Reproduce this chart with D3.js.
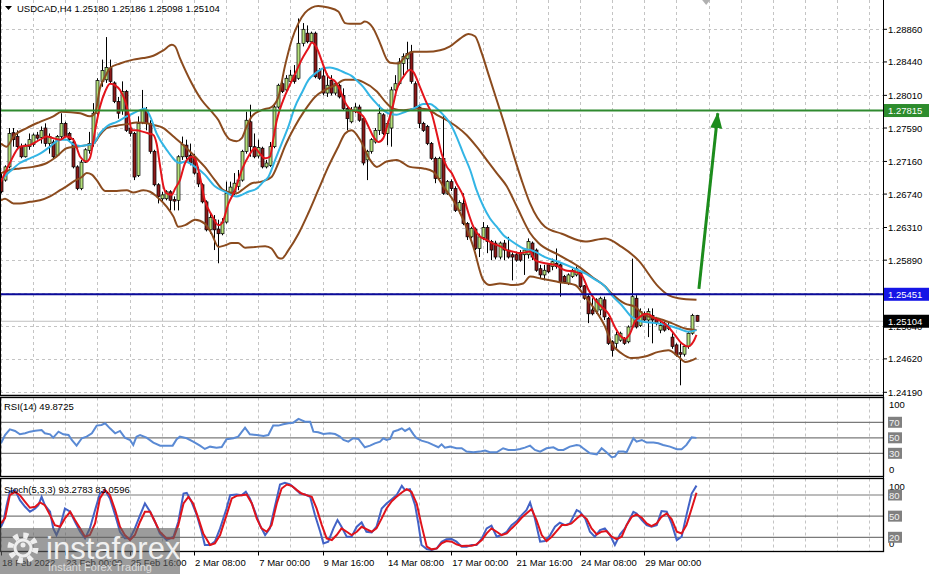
<!DOCTYPE html>
<html>
<head>
<meta charset="utf-8">
<script src="https://cdn.jsdelivr.net/npm/d3@7"></script>
<style>
  html, body { margin: 0; padding: 0; background: #fff; }
  svg { display: block; font-family: "Liberation Sans", Arial, sans-serif; }
</style>
</head>
<body>
<svg id="chart" width="929" height="574"></svg>
<script>
// USDCAD H4 candles, 18 Feb 08:00 .. 31 Mar 04:00
const opens = [1.2692,1.2692,1.2709,1.2753,1.2748,1.2735,1.2722,1.2735,1.2738,1.2750,1.2747,1.2759,1.2739,1.2741,1.2724,1.2748,1.2765,1.2752,1.2741,1.2709,
  1.2681,1.2715,1.2730,1.2739,1.2778,1.2819,1.2821,1.2836,1.2817,1.2793,1.2782,1.2806,1.2759,1.2752,1.2698,1.2766,1.2782,1.2765,1.2729,1.2686,
  1.2668,1.2668,1.2677,1.2667,1.2666,1.2722,1.2737,1.2724,1.2721,1.2701,1.2686,1.2664,1.2628,1.2641,1.2629,1.2623,1.2638,1.2675,1.2677,1.2684,
  1.2692,1.2729,1.2767,1.2735,1.2723,1.2733,1.2709,1.2711,1.2735,1.2786,1.2816,1.2808,1.2819,1.2827,1.2823,1.2868,1.2881,1.2870,1.2881,1.2833,
  1.2826,1.2804,1.2820,1.2804,1.2814,1.2801,1.2784,1.2767,1.2780,1.2786,1.2771,1.2718,1.2729,1.2741,1.2756,1.2776,1.2752,1.2759,1.2808,1.2816,
  1.2842,1.2848,1.2857,1.2816,1.2786,1.2765,1.2761,1.2739,1.2720,1.2694,1.2720,1.2675,1.2690,1.2681,1.2653,1.2662,1.2636,1.2619,1.2629,1.2604,
  1.2618,1.2631,1.2613,1.2611,1.2593,1.2611,1.2602,1.2596,1.2596,1.2599,1.2596,1.2596,1.2611,1.2602,1.2578,1.2570,1.2583,1.2581,1.2585,1.2583,
  1.2568,1.2559,1.2568,1.2570,1.2574,1.2556,1.2542,1.2525,1.2523,1.2525,1.2538,1.2514,1.2484,1.2482,1.2486,1.2488,1.2484,1.2503,1.2540,1.2505,
  1.2520,1.2512,1.2518,1.2514,1.2499,1.2508,1.2501,1.2490,1.2480,1.2470,1.2468,1.2478,1.2495,1.25180]
const highs = [1.2701,1.2711,1.2759,1.2759,1.2756,1.2739,1.2739,1.2752,1.2752,1.2754,1.2761,1.2765,1.2752,1.2744,1.2750,1.2778,1.2767,1.2754,1.2746,1.2711,
  1.2718,1.2733,1.2754,1.2791,1.2823,1.2847,1.2876,1.2847,1.2819,1.2799,1.2819,1.2808,1.2761,1.2754,1.2774,1.2808,1.2786,1.2769,1.2731,1.2688,
  1.2677,1.2679,1.2679,1.2671,1.2724,1.2748,1.2744,1.2739,1.2726,1.2709,1.2688,1.2666,1.2649,1.2647,1.2641,1.2643,1.2690,1.2690,1.2701,1.2705,
  1.2731,1.2780,1.2789,1.2752,1.2744,1.2735,1.2718,1.2741,1.2789,1.2816,1.2821,1.2827,1.2834,1.2840,1.2900,1.2894,1.2891,1.2883,1.2883,1.2836,
  1.2840,1.2829,1.2827,1.2819,1.2816,1.2810,1.2786,1.2786,1.2791,1.2789,1.2774,1.2731,1.2746,1.2759,1.2789,1.2778,1.2767,1.2812,1.2827,1.2849,
  1.2855,1.2870,1.2866,1.2819,1.2789,1.2767,1.2763,1.2741,1.2722,1.2722,1.2776,1.2692,1.2693,1.2684,1.2666,1.2675,1.2638,1.2632,1.2631,1.2623,
  1.2638,1.2634,1.2615,1.2614,1.2613,1.2615,1.2619,1.2599,1.2600,1.2602,1.2603,1.2617,1.2613,1.2604,1.2583,1.2583,1.2585,1.2591,1.2604,1.2585,
  1.2570,1.2572,1.2578,1.2581,1.2576,1.2557,1.2544,1.2540,1.2540,1.2542,1.2542,1.2516,1.2486,1.2497,1.2497,1.2490,1.2505,1.2591,1.2544,1.2527,
  1.2523,1.2527,1.2527,1.2516,1.2512,1.2510,1.2508,1.2495,1.2482,1.2482,1.2480,1.2497,1.2520,1.25186]
const lows = [1.2675,1.2690,1.2707,1.2735,1.2733,1.2720,1.2721,1.2731,1.2735,1.2744,1.2739,1.2735,1.2726,1.2720,1.2723,1.2744,1.2747,1.2741,1.2707,1.2679,
  1.2679,1.2714,1.2726,1.2735,1.2774,1.2812,1.2817,1.2816,1.2791,1.2771,1.2776,1.2754,1.2748,1.2692,1.2696,1.2764,1.2756,1.2726,1.2684,1.2662,
  1.2664,1.2666,1.2653,1.2653,1.2653,1.2718,1.2719,1.2711,1.2699,1.2683,1.2662,1.2626,1.2623,1.2602,1.2585,1.2621,1.2636,1.2673,1.2673,1.2679,
  1.2690,1.2726,1.2722,1.2720,1.2720,1.2707,1.2707,1.2709,1.2733,1.2784,1.2804,1.2806,1.2814,1.2816,1.2821,1.2864,1.2868,1.2868,1.2823,1.2821,
  1.2801,1.2799,1.2801,1.2801,1.2797,1.2782,1.2756,1.2765,1.2778,1.2767,1.2711,1.2692,1.2726,1.2739,1.2750,1.2750,1.2737,1.2735,1.2806,1.2814,
  1.2827,1.2834,1.2816,1.2784,1.2759,1.2754,1.2737,1.2718,1.2688,1.2692,1.2673,1.2673,1.2678,1.2651,1.2649,1.2634,1.2615,1.2617,1.2602,1.2593,
  1.2615,1.2598,1.2589,1.2590,1.2590,1.2589,1.2591,1.2563,1.2587,1.2587,1.2570,1.2591,1.2589,1.2574,1.2566,1.2563,1.2572,1.2576,1.2578,1.2542,
  1.2559,1.2557,1.2566,1.2568,1.2553,1.2538,1.2508,1.2518,1.2520,1.2518,1.2512,1.2480,1.2465,1.2475,1.2484,1.2480,1.2482,1.2501,1.2501,1.2503,
  1.2510,1.2490,1.2482,1.2505,1.2495,1.2497,1.2499,1.2475,1.2465,1.2428,1.2465,1.2475,1.2493,1.25098]
const closes = [1.2677,1.2709,1.2752,1.2744,1.2735,1.2722,1.2737,1.2744,1.2750,1.2746,1.2756,1.2739,1.2748,1.2722,1.2748,1.2765,1.2748,1.2744,1.2709,1.2681,
  1.2715,1.2731,1.2739,1.2778,1.2820,1.2833,1.2837,1.2819,1.2793,1.2778,1.2806,1.2756,1.2752,1.2696,1.2765,1.2783,1.2765,1.2729,1.2686,1.2671,
  1.2673,1.2677,1.2666,1.2665,1.2722,1.2738,1.2722,1.2714,1.2701,1.2687,1.2664,1.2628,1.2644,1.2628,1.2623,1.2638,1.2675,1.2683,1.2688,1.2692,
  1.2729,1.2769,1.2735,1.2722,1.2734,1.2709,1.2714,1.2735,1.2786,1.2814,1.2806,1.2823,1.2827,1.2819,1.2868,1.2886,1.2870,1.2881,1.2825,1.2823,
  1.2804,1.2814,1.2804,1.2816,1.2799,1.2784,1.2771,1.2782,1.2786,1.2769,1.2714,1.2729,1.2744,1.2756,1.2778,1.2752,1.2765,1.2808,1.2816,1.2844,
  1.2851,1.2855,1.2819,1.2786,1.2765,1.2756,1.2739,1.2720,1.2694,1.2720,1.2675,1.2690,1.2681,1.2653,1.2663,1.2636,1.2619,1.2630,1.2604,1.2619,
  1.2631,1.2613,1.2602,1.2593,1.2611,1.2602,1.2593,1.2593,1.2589,1.2589,1.2602,1.2613,1.2593,1.2576,1.2570,1.2576,1.2574,1.2587,1.2581,1.2561,
  1.2561,1.2570,1.2576,1.2578,1.2555,1.2540,1.2520,1.2520,1.2538,1.2540,1.2516,1.2482,1.2473,1.2493,1.2495,1.2482,1.2503,1.2542,1.2503,1.2523,
  1.2512,1.2523,1.2512,1.2508,1.2505,1.2499,1.2505,1.2478,1.2467,1.2468,1.2478,1.2495,1.2518,1.25104]

// indicator lines as [bar, value] samples
const upperBand = [[0,1.2739],[1.4,1.2735],[3.1,1.2748],[6.4,1.2759],[9.7,1.2767],[13,1.2774],[15.1,1.2780],[19.7,1.2778],[22.1,1.2774],[23.4,1.2778],
  [24.6,1.2810],[25.9,1.2825],[27.1,1.2836],[29.6,1.2842],[32.9,1.2847],[35.4,1.2849],[37.9,1.2852],[40.4,1.2859],[42.5,1.2866],[43.3,1.2864],[44.5,1.2849],
  [47.4,1.2817],[49.9,1.2795],[52.4,1.2780],[54.1,1.2769],[55.7,1.2752],[57,1.2744],[58.6,1.2742],[59.9,1.2746],[61.1,1.2761],[62.4,1.2774],[64.8,1.2782],
  [67.3,1.2786],[69,1.2799],[70.6,1.2838],[72.3,1.2872],[74,1.2894],[75.6,1.2907],[77.3,1.2914],[78.9,1.2916],[81.4,1.2914],[83.9,1.2909],[85.6,1.2894],
  [86.8,1.2893],[89.3,1.2893],[90.5,1.2896],[92.5,1.2888],[94.3,1.2868],[96,1.2847],[96.8,1.2843],[98.8,1.2842],[100.9,1.2853],[102.6,1.2857],[105.9,1.2857],
  [109.2,1.2859],[111.7,1.2864],[114.2,1.2874],[116.3,1.2880],[117.9,1.2877],[119.6,1.2855],[121.2,1.2829],[123.3,1.2795],[125.4,1.2761],[127.4,1.2726],
  [129.5,1.2692],[131.6,1.2662],[135.3,1.2632],[139.5,1.2623],[145.3,1.2613],[150.3,1.2617],[154.4,1.2606],[158.5,1.2589],[163.5,1.2555],[166,1.2544],
  [168.5,1.2540],[173,1.2538]]
const lowerBand = [[0,1.2666],[1,1.2668],[3.1,1.2662],[4.7,1.2662],[7.2,1.2664],[9.7,1.2666],[12.2,1.2671],[14.7,1.2679],[16.3,1.2684],[18,1.2690],
  [20.1,1.2696],[21.3,1.2701],[22.6,1.2699],[23.8,1.2692],[25.9,1.2678],[28.8,1.2678],[31.3,1.2679],[32.9,1.2676],[35.4,1.2679],[37.1,1.2677],[38.7,1.2671],
  [41.2,1.2658],[42.9,1.2645],[44.1,1.2632],[45.8,1.2634],[48.3,1.2641],[50.7,1.2636],[52.4,1.2623],[54.1,1.2606],[55.7,1.2608],[57.4,1.2611],[59,1.2611],
  [60.7,1.2605],[63.2,1.2606],[65.7,1.2607],[67.3,1.2604],[69,1.2592],[69.8,1.2591],[71.5,1.2602],[74,1.2623],[76.4,1.2649],[78.9,1.2679],[81.4,1.2709],
  [83.9,1.2735],[85.6,1.2752],[87.2,1.2756],[89.3,1.2744],[91.8,1.2718],[93.5,1.2709],[95.9,1.2716],[98.4,1.2718],[101.7,1.2709],[105.1,1.2707],
  [107.5,1.2703],[110,1.2684],[112.5,1.2666],[115,1.2641],[117.5,1.2606],[120,1.2563],[121.6,1.2557],[124.1,1.2559],[127.4,1.2557],[129.9,1.2559],
  [131.6,1.2568],[134.5,1.2565],[138.6,1.2561],[142.8,1.2557],[145.3,1.2542],[147.8,1.2525],[150.3,1.2503],[151.9,1.2482],[154.4,1.2469],[156.9,1.2463],
  [160.2,1.2465],[163.5,1.2471],[166,1.2473],[168.5,1.2465],[170.2,1.2458],[173,1.2463]]
const middleBand = [[0,1.2701],[2.2,1.2705],[4.7,1.2707],[8,1.2709],[11.4,1.2714],[13.8,1.2722],[16.3,1.2733],[18.8,1.2735],[21.3,1.2737],[23,1.2739],
  [24.6,1.2750],[26.3,1.2759],[28.8,1.2762],[31.3,1.2764],[33.8,1.2766],[36.2,1.2765],[37.9,1.2763],[40.4,1.2759],[42.9,1.2748],[44.5,1.2741],[45.8,1.2735],
  [48.3,1.2722],[50.7,1.2709],[53.2,1.2692],[55.3,1.2679],[57,1.2676],[58.6,1.2675],[59.9,1.2679],[62.4,1.2688],[64.8,1.2690],[67.3,1.2696],[69,1.2714],
  [70.6,1.2735],[73.1,1.2761],[75.6,1.2782],[78.1,1.2799],[80.6,1.2808],[83.1,1.2814],[85.6,1.2821],[88.1,1.2821],[90.1,1.2818],[93.5,1.2806],[95.9,1.2791],
  [97.6,1.2784],[100.1,1.2782],[103.4,1.2784],[105.9,1.2783],[108.4,1.2776],[110.9,1.2769],[113.3,1.2761],[115.8,1.2750],[118.3,1.2735],[120.8,1.2718],
  [123.3,1.2701],[125.8,1.2684],[128.3,1.2658],[131.6,1.2624],[133.7,1.2611],[138.6,1.2596],[143.6,1.2581],[146.9,1.2568],[150.3,1.2555],[151.9,1.2546],
  [155.2,1.2533],[157.7,1.2529],[160.2,1.2518],[163.5,1.2514],[166.8,1.2508],[170.2,1.2501],[173,1.2499]]
const fastMA = [[0,1.2690],[2.2,1.2714],[4.7,1.2735],[7.2,1.2737],[9.7,1.2744],[11.4,1.2748],[13,1.2746],[14.7,1.2744],[16.3,1.2748],[18,1.2744],
  [19.7,1.2722],[21.3,1.2716],[22.1,1.2720],[23.4,1.2756],[24.6,1.2786],[25.9,1.2806],[27.1,1.2816],[28.4,1.2814],[29.6,1.2808],[30.8,1.2795],[31.7,1.2778],
  [32.5,1.2756],[33.7,1.2756],[35.4,1.2754],[36.7,1.2752],[37.9,1.2750],[38.7,1.2739],[39.6,1.2709],[40.4,1.2684],[41.2,1.2675],[42.5,1.2673],[43.3,1.2681],
  [44.5,1.2692],[45.8,1.2714],[47.4,1.2722],[48.3,1.2719],[49.5,1.2696],[50.7,1.2666],[52.4,1.2647],[54.1,1.2634],[54.9,1.2636],[56.6,1.2662],[58.2,1.2679],
  [59.9,1.2705],[61.5,1.2722],[63.2,1.2733],[64.4,1.2726],[65.7,1.2720],[66.9,1.2722],[67.7,1.2744],[68.6,1.2769],[70.2,1.2795],[71.9,1.2815],[73.1,1.2828],
  [74.8,1.2847],[76.5,1.2862],[77.3,1.2869],[78.1,1.2866],[78.9,1.2858],[79.8,1.2845],[81.4,1.2825],[83.1,1.2819],[84.3,1.2808],[85.6,1.2792],[87.2,1.2782],
  [88.5,1.2780],[90.1,1.2774],[91.4,1.2761],[92.6,1.2748],[93.9,1.2741],[95.1,1.2746],[96.4,1.2768],[97.6,1.2790],[98.4,1.2808],[100.1,1.2825],[101.7,1.2834],
  [102.6,1.2831],[104.2,1.2812],[105.9,1.2791],[107.1,1.2778],[108.4,1.2752],[109.6,1.2726],[110.9,1.2709],[112.1,1.2701],[113.3,1.2688],[115,1.2671],
  [116.3,1.2649],[117.5,1.2632],[119.2,1.2619],[120.8,1.2615],[122.5,1.2610],[124.1,1.2607],[125.8,1.2602],[127.4,1.2600],[129.1,1.2598],[131.6,1.2600],
  [132.8,1.2589],[135.3,1.2585],[137.8,1.2583],[140.3,1.2576],[142.8,1.2574],[144.4,1.2570],[146.1,1.2551],[147.8,1.2538],[149.4,1.2529],[151.1,1.2520],
  [152.7,1.2503],[154.4,1.2490],[155.2,1.2488],[156.5,1.2495],[157.7,1.2510],[158.9,1.2516],[160.6,1.2520],[162.7,1.2514],[164.3,1.2510],[166,1.2503],
  [167.6,1.2493],[169.3,1.2482],[170.9,1.2478],[172.2,1.2484],[173,1.2493]]
const slowMA = [[0,1.2692],[2.2,1.2703],[4.7,1.2714],[7.2,1.2720],[9.7,1.2726],[12.2,1.2735],[14.7,1.2744],[16.3,1.2744],[18,1.2738],[19.7,1.2736],
  [21.3,1.2737],[23,1.2739],[24.6,1.2752],[26.3,1.2761],[28.8,1.2767],[31.3,1.2774],[32.9,1.2778],[34.6,1.2782],[35.8,1.2784],[37.1,1.2774],[38.7,1.2752],
  [41.2,1.2731],[44.5,1.2714],[45.8,1.2716],[48.3,1.2709],[50.7,1.2699],[53.2,1.2684],[55.7,1.2677],[58.6,1.2671],[59.9,1.2673],[61.5,1.2677],[63.6,1.2681],
  [65.3,1.2690],[66.5,1.2696],[68.2,1.2718],[69.8,1.2739],[71.5,1.2761],[73.1,1.2786],[74.8,1.2804],[76.5,1.2821],[78.1,1.2829],[80.2,1.2836],[81.8,1.2837],
  [83.9,1.2834],[85.6,1.2830],[87.2,1.2826],[88.5,1.2820],[90.1,1.2812],[91.8,1.2800],[93.5,1.2790],[95.1,1.2782],[96.8,1.2777],[98.4,1.2776],[100.1,1.2779],
  [101.7,1.2782],[103.4,1.2786],[105,1.2790],[106.7,1.2790],[108.4,1.2784],[110,1.2776],[111.7,1.2765],[113.3,1.2748],[115,1.2726],[116.7,1.2705],
  [118.3,1.2679],[120,1.2658],[121.6,1.2643],[123.3,1.2632],[125,1.2621],[126.6,1.2615],[128.3,1.2609],[129.9,1.2604],[131.6,1.2602],[132.8,1.2600],
  [135.3,1.2593],[138.6,1.2587],[142.8,1.2578],[145.3,1.2572],[147.8,1.2564],[150.3,1.2555],[151.9,1.2544],[154.4,1.2531],[156.9,1.2516],[159.4,1.2510],
  [162.7,1.2508],[166,1.2505],[168.5,1.2501],[171,1.2497],[173,1.2499]]

const rsi = [[0,42.9],[1,53.6],[2.2,60.9],[3.5,58.8],[4.7,54.5],[6,55.8],[7.2,57.9],[8.5,59.2],[10.1,60.1],[10.9,55.8],[12.2,54.5],[13,50.2],[14.3,57.9],
  [15.5,54.5],[16.8,53.6],[17.6,47.2],[18.8,39.9],[20.1,49.4],[21.3,51.5],[22.6,55.8],[23.8,65.7],[25,66.5],[25.9,68.7],[27.1,62.2],[28.4,55.8],[29.6,58.8],
  [30.8,50.2],[32.1,47.2],[32.9,40.8],[33.7,51.5],[34.6,53.6],[36.2,50.2],[37.9,43.8],[39.6,39.9],[41.2,39.9],[42.7,39.9],[43.7,48.1],[44.5,51.5],[46.2,49.4],
  [47.8,45.1],[49.5,39.9],[50.7,35.6],[52,38.6],[53.6,37.3],[54.9,38.2],[56.1,48.1],[57.8,49.4],[59,51.5],[60.7,63.1],[61.9,54.5],[63.6,53.6],[65.3,52.4],
  [66.5,53.6],[67.7,65.7],[69,65.7],[70.2,67.4],[71.5,68.7],[72.7,69.5],[74,74.3],[75.6,70.8],[76.9,70.8],[77.7,57.9],[78.9,57.1],[80.2,54.9],[81.8,55.8],
  [83.1,54.9],[84.3,51.5],[85.2,47.2],[86.4,45.1],[87.6,49.4],[88.9,48.5],[90.5,37.8],[91.8,39.9],[93,42.9],[94.3,45.1],[95.1,49.4],[95.9,47.2],[96.8,48.5],
  [97.6,57.9],[98.8,60.1],[99.7,62.2],[100.5,58.8],[101.6,62.2],[102.6,54.5],[103.4,49.4],[104.6,46.3],[106.3,43.8],[107.5,40.8],[108.8,37.8],[109.6,41.6],
  [110.4,37.3],[111.7,38.6],[113.3,36.5],[114.6,36.5],[115.8,32.2],[117.5,31.3],[119.1,32.2],[120.4,33.5],[121.6,31.3],[123.3,31.3],[124.9,36.5],[126.2,34.3],
  [127.8,34.3],[129.1,35.6],[130.3,37.3],[131.6,39.9],[132.8,34.3],[134.1,32.2],[135.7,36.5],[137.4,37.8],[138.6,34.3],[139.9,34.3],[141.5,38.6],[143.2,40.8],
  [144,39.9],[144.8,36.5],[146.5,30],[148.2,28.7],[149.4,36.5],[150.6,31.3],[151.9,24.9],[152.7,25.7],[153.6,32.2],[154.8,32.2],[155.6,31.3],[157.3,49.4],
  [158.1,45.1],[159.4,47.2],[160.6,43.8],[162.3,43.8],[163.5,42.9],[164.7,40.8],[166.4,38.6],[168.1,35.2],[169.3,35.2],[170.5,40.8],[171.8,50.6],[173,49.9]]

const stochMain = [[0,35],[0.6,42.1],[1.4,65.6],[2.2,84.5],[3.5,86.9],[4.7,72.7],[6,63.3],[7.2,56.2],[8.5,60.9],[9.3,65.6],[10.1,77.4],[10.9,65.6],
  [12.2,56.2],[13,32.6],[13.8,23.2],[14.7,35],[15.9,60.9],[17.2,56.2],[18.4,42.1],[19.7,27.9],[20.9,18.5],[22.1,32.6],[23.4,58.6],[24.6,82.1],[25.9,86.9],
  [27.1,75.1],[28.4,51.5],[29.6,27.9],[30.8,18.5],[32.1,18.5],[33.3,32.6],[34.6,51.5],[35.8,68],[37.1,56.2],[38.3,42.1],[39.5,25.5],[41.2,16.1],[42.9,20.8],
  [44.1,42.1],[45.4,82.1],[46.2,83.1],[47.4,70.4],[48.7,51.5],[49.9,27.9],[50.7,9],[52,9],[53.2,13.8],[54.5,32.6],[56.1,60.9],[57,79.8],[58.6,80.7],
  [59.9,79.8],[60.9,84.5],[61.9,75.1],[63.2,56.2],[64.4,37.3],[65.7,23.2],[66.9,32.6],[68.2,65.6],[69.4,94.9],[70.6,97.2],[71.9,94.9],[73.1,89.2],
  [74.4,82.1],[75.6,80.7],[76.9,77.4],[78.1,51.5],[79.4,27.9],[80.2,11.4],[81.4,13.8],[82.7,32.6],[83.7,44.4],[84.7,35],[86,20.8],[87.2,20.8],[88.5,35],
  [89.7,41.1],[90.9,27.9],[92.2,26.9],[93.4,35],[94.7,60.9],[95.9,68],[97.2,74.1],[98.4,79.8],[99.7,93],[100.5,86.9],[101.7,88.3],[103,65.6],[103.8,39.7],
  [104.6,9],[105.9,3.4],[107.1,2],[108.4,4.3],[109.6,13.8],[110.8,17.1],[112.1,17.5],[113.3,13.8],[114.6,6.7],[115.8,6.7],[117.1,9],[118.3,9],[119.6,18.5],
  [120.8,32.6],[122,36.4],[123.3,20.8],[124.5,23.2],[125.8,27.9],[127,37.3],[128.3,43],[129.5,51.5],[130.7,58.6],[131.6,69.4],[132.8,46.8],[134.1,13.8],
  [135.3,14.7],[136.6,23.2],[137.8,35],[139,40.6],[140.3,37.3],[141.5,39.7],[143.2,58.6],[144,56.2],[145.3,46.8],[146.5,27.9],[147.7,20.8],[149,30.3],
  [150.2,32.6],[151.5,23.2],[152.7,9],[154,24.1],[155.2,32.6],[157.3,56.2],[158.1,53.8],[159.4,44.4],[160.6,37.3],[161.8,35],[163.1,37.3],[164.3,57.2],
  [165.6,56.2],[166.8,39.7],[168.1,16.1],[169.3,20.8],[170.5,51.5],[171.8,82.1],[173,93.3]]
const stochSignal = [[0,39.7],[1,46.8],[2.2,79.8],[3.5,84.5],[4.7,79.8],[6,70.4],[7.2,61.9],[8.5,63.3],[9.7,69.4],[10.9,65.6],[12.2,51.5],[13.4,37.3],
  [14.7,35],[15.9,46.8],[17.2,56.2],[18.4,44.4],[19.7,32.6],[20.9,20.8],[22.1,23.2],[23.4,39.7],[24.6,75.1],[25.9,86.9],[27.1,79.8],[28.4,58.6],[29.6,35],
  [30.8,23.2],[32.1,16.1],[33.3,23.2],[34.6,42.1],[35.8,56.2],[37.1,56.2],[38.3,42.1],[39.5,27.9],[41.2,18.5],[42.9,18.5],[44.1,37.3],[45.4,68],[46.6,77.4],
  [47.8,68],[49.1,46.8],[50.3,25.5],[52,9],[53.2,11.4],[54.5,23.2],[56.1,51.5],[57.4,75.1],[58.6,78.8],[59.9,79.8],[61.1,80.7],[62.4,68],[63.6,46.8],
  [64.8,32.6],[66.1,27.9],[67.3,37.3],[68.6,68],[69.8,89.2],[71.1,94.9],[72.3,93],[73.6,86.9],[74.8,82.1],[76,79.8],[77.3,77.4],[78.5,60.9],[79.8,37.3],
  [81,18.5],[82.3,16.1],[83.5,23.2],[84.7,32.6],[86,27.9],[87.2,23.2],[88.5,27.9],[89.7,35],[90.9,31.7],[92.2,27.9],[93.4,32.6],[94.7,46.8],[95.9,60.9],
  [97.2,71.3],[98.4,77.4],[99.7,83.6],[100.9,88.3],[102.1,84.5],[103.4,68],[104.6,37.3],[105.9,6.7],[107.1,2.9],[108.4,4.3],[109.6,11.4],[110.8,14.7],
  [112.1,13.8],[113.3,10],[114.6,7.6],[115.8,8.1],[117.1,8.1],[118.3,10],[119.6,16.1],[120.8,25.5],[122,32.6],[123.3,27.9],[124.5,23.2],[125.8,25.5],
  [127,32.6],[128.3,39.7],[129.5,47.7],[130.7,53.8],[132,60],[133.2,44.4],[134.5,23.2],[135.7,14.7],[137,20.8],[138.2,28.9],[139.5,37.3],[140.7,37.3],
  [141.9,39.7],[143.2,46.8],[144.4,52.4],[145.7,45.8],[146.9,32.6],[148.2,24.1],[149.4,27.9],[150.6,28.9],[151.9,20.8],[153.1,17.5],[154.4,20.8],
  [155.6,37.3],[156.9,49.1],[158.1,52.4],[159.4,47.7],[160.6,39.7],[161.8,35.9],[163.1,39.7],[164.3,49.1],[165.6,53.8],[166.8,45.8],[168.1,27.9],
  [169.3,25.5],[170.5,37.3],[171.8,60.9],[173,83.1]]

const priceTicks = [1.28860, 1.28440, 1.28010, 1.27590, 1.27160, 1.26740, 1.26310, 1.25890, 1.25470, 1.25040, 1.24620, 1.24190]
const timeLabelBars = [0, 16, 32, 48, 64, 80, 96, 112, 128, 144, 160]
const timeLabels = ['18 Feb 2022', '23 Feb 00:00', '25 Feb 16:00', '2 Mar 08:00', '7 Mar 00:00', '9 Mar 16:00',
  '14 Mar 08:00', '17 Mar 00:00', '21 Mar 16:00', '24 Mar 08:00', '29 Mar 00:00']
const resistance = 1.27815
const support = 1.25451
const arrowFrom = [173.6, 1.2552]
const arrowTo = [178.3, 1.2778]
const rsiLevels = [70, 50, 30]
const stochLevels = [80, 50, 20]

;(function () {
  const width = 929; const height = 574
  const plotRight = 883
  const mainP = { top: 0, bottom: 395.5 }
  const rsiP = { top: 397.5, bottom: 476.5 }
  const stochP = { top: 478.5, bottom: 551.5 }
  const fs = 9.5

  const svg = d3.select('#chart')
  svg.append('rect').attr('width', width).attr('height', height).attr('fill', '#fff')

  // scales
  const x = d3.scaleLinear().domain([0, 173]).range([1, 696.5])
  const yMain = d3.scaleLinear().domain([1.24190, 1.28860]).range([392.3, 29.3])
  const yRsi = d3.scaleLinear().domain([0, 100]).range([476.6, 399])
  const yStoch = d3.scaleLinear().domain([0, 100]).range([551.4, 480.9])

  const defs = svg.append('defs')
  ;[['clipMain', mainP], ['clipRsi', rsiP], ['clipStoch', stochP]].forEach(([id, p]) => {
    defs.append('clipPath').attr('id', id).append('rect')
      .attr('x', 0).attr('y', p.top).attr('width', plotRight).attr('height', p.bottom - p.top)
  })
  defs.append('marker').attr('id', 'arrowHead')
    .attr('viewBox', '0 0 16 12').attr('refX', 15).attr('refY', 6)
    .attr('markerWidth', 16).attr('markerHeight', 12)
    .attr('markerUnits', 'userSpaceOnUse').attr('orient', 'auto')
    .append('path').attr('d', 'M0,0 L16,6 L0,12 Z').attr('fill', '#1c8c1c')

  // vertical grid every 8 bars
  const gridBars = d3.range(0, 240, 8).filter(i => x(i) < plotRight - 2)
  ;[mainP, rsiP, stochP].forEach(p => {
    svg.append('g').selectAll('line').data(gridBars).enter().append('line')
      .attr('x1', d => Math.round(x(d)) + 0.5).attr('x2', d => Math.round(x(d)) + 0.5)
      .attr('y1', p.top).attr('y2', p.bottom)
      .attr('stroke', '#c4c4c4').attr('stroke-dasharray', '3,3')
  })
  svg.append('g').selectAll('line').data(priceTicks).enter().append('line')
    .attr('x1', 0).attr('x2', plotRight)
    .attr('y1', d => Math.round(yMain(d)) + 0.5).attr('y2', d => Math.round(yMain(d)) + 0.5)
    .attr('stroke', '#c4c4c4').attr('stroke-dasharray', '3,3')

  // bid line
  svg.append('line').attr('x1', 0).attr('x2', plotRight)
    .attr('y1', yMain(closes[closes.length - 1])).attr('y2', yMain(closes[closes.length - 1]))
    .attr('stroke', '#c0c0c0').attr('stroke-width', 1)

  // candles
  const candles = closes.map((c, i) => ({ i, o: opens[i], h: highs[i], l: lows[i], c }))
  const cg = svg.append('g').attr('clip-path', 'url(#clipMain)')
  cg.selectAll('line.wick').data(candles).enter().append('line')
    .attr('x1', d => Math.round(x(d.i)) + 0.5).attr('x2', d => Math.round(x(d.i)) + 0.5)
    .attr('y1', d => yMain(d.h)).attr('y2', d => yMain(d.l))
    .attr('stroke', '#000').attr('stroke-width', 1)
  cg.selectAll('rect.body').data(candles).enter().append('rect')
    .attr('x', d => Math.round(x(d.i)) - 1)
    .attr('width', 3)
    .attr('y', d => yMain(Math.max(d.o, d.c)))
    .attr('height', d => Math.max(1, Math.abs(yMain(d.o) - yMain(d.c))))
    .attr('fill', d => d.c >= d.o ? '#b5e17c' : '#8c1a1a')
    .attr('stroke', '#000').attr('stroke-width', 0.7)

  // bands and moving averages
  const priceLine = d3.line().x(d => x(d[0])).y(d => yMain(d[1])).curve(d3.curveMonotoneX)
  const lg = svg.append('g').attr('clip-path', 'url(#clipMain)').attr('fill', 'none')
  ;[upperBand, lowerBand, middleBand].forEach(b => {
    lg.append('path').attr('d', priceLine(b)).attr('stroke', '#8b4b1e').attr('stroke-width', 2)
  })
  lg.append('path').attr('d', priceLine(slowMA)).attr('stroke', '#33b5e5').attr('stroke-width', 2)
  lg.append('path').attr('d', priceLine(fastMA)).attr('stroke', '#e3141b').attr('stroke-width', 2)

  // horizontal levels
  lg.append('line').attr('x1', 0).attr('x2', plotRight)
    .attr('y1', yMain(resistance)).attr('y2', yMain(resistance))
    .attr('stroke', '#2f8a2f').attr('stroke-width', 2)
  lg.append('line').attr('x1', 0).attr('x2', plotRight)
    .attr('y1', yMain(support)).attr('y2', yMain(support))
    .attr('stroke', '#0a0a9a').attr('stroke-width', 2)

  // forecast arrow
  svg.append('line')
    .attr('x1', x(arrowFrom[0])).attr('y1', yMain(arrowFrom[1]))
    .attr('x2', x(arrowTo[0])).attr('y2', yMain(arrowTo[1]))
    .attr('stroke', '#1c8c1c').attr('stroke-width', 3)
    .attr('marker-end', 'url(#arrowHead)')

  // shift marker at top
  const sx = x(175.4)
  svg.append('path').attr('d', `M${sx - 4},0 L${sx + 4},0 L${sx},5 Z`).attr('fill', '#b0b0b0')

  // indicator panels
  const rg = svg.append('g').attr('clip-path', 'url(#clipRsi)')
  rg.selectAll('line').data(rsiLevels).enter().append('line')
    .attr('x1', 0).attr('x2', plotRight)
    .attr('y1', d => yRsi(d)).attr('y2', d => yRsi(d))
    .attr('stroke', '#7a7a7a').attr('stroke-width', 1.2)
  rg.append('path').attr('fill', 'none').attr('stroke', '#5a8ad4').attr('stroke-width', 2)
    .attr('d', d3.line().x(d => x(d[0])).y(d => yRsi(d[1]))(rsi))

  const sg = svg.append('g').attr('clip-path', 'url(#clipStoch)')
  sg.selectAll('line').data(stochLevels).enter().append('line')
    .attr('x1', 0).attr('x2', plotRight)
    .attr('y1', d => yStoch(d)).attr('y2', d => yStoch(d))
    .attr('stroke', '#7a7a7a').attr('stroke-width', 1.2)
  const stLine = d3.line().x(d => x(d[0])).y(d => yStoch(d[1]))
  sg.append('path').attr('fill', 'none').attr('stroke', '#4262c6').attr('stroke-width', 2).attr('d', stLine(stochMain))
  sg.append('path').attr('fill', 'none').attr('stroke', '#e0131b').attr('stroke-width', 2).attr('d', stLine(stochSignal))

  // panel frames
  ;[rsiP, stochP].forEach(p => {
    svg.append('rect').attr('x', 0.5).attr('y', p.top).attr('width', plotRight).attr('height', p.bottom - p.top)
      .attr('fill', 'none').attr('stroke', '#000').attr('stroke-width', 1.3)
  })
  svg.append('line').attr('x1', 0.5).attr('x2', 0.5).attr('y1', 0).attr('y2', mainP.bottom).attr('stroke', '#000')
  svg.append('line').attr('x1', 0).attr('x2', plotRight).attr('y1', mainP.bottom).attr('y2', mainP.bottom).attr('stroke', '#000').attr('stroke-width', 1.3)
  svg.append('line').attr('x1', plotRight + 0.5).attr('x2', plotRight + 0.5).attr('y1', 0).attr('y2', stochP.bottom).attr('stroke', '#000')

  // price axis
  const ax = svg.append('g').attr('font-size', fs).attr('fill', '#000')
  ax.selectAll('line').data(priceTicks).enter().append('line')
    .attr('x1', plotRight).attr('x2', plotRight + 4)
    .attr('y1', d => yMain(d)).attr('y2', d => yMain(d)).attr('stroke', '#000')
  ax.selectAll('text').data(priceTicks).enter().append('text')
    .attr('x', plotRight + 5).attr('y', d => yMain(d) + 3.5)
    .text(d => d.toFixed(5))

  function priceBox (v, fill) {
    const y = yMain(v)
    svg.append('rect').attr('x', plotRight + 1).attr('y', y - 6.5).attr('width', width - plotRight - 1).attr('height', 13).attr('fill', fill)
    svg.append('text').attr('x', plotRight + 5).attr('y', y + 3.5).attr('font-size', fs).attr('fill', '#fff').text(v.toFixed(5))
  }
  priceBox(resistance, '#2d8c2d')
  priceBox(support, '#1515e6')
  priceBox(closes[closes.length - 1], '#000')

  // indicator axes
  function levelAxis (scale, levels) {
    const g = svg.append('g').attr('font-size', fs)
    g.append('text').attr('x', plotRight + 6).attr('y', scale(100) + 9).text('100')
    g.append('text').attr('x', plotRight + 6).attr('y', scale(0) - 4).text('0')
    levels.forEach(l => {
      g.append('rect').attr('x', plotRight + 5).attr('y', scale(l) - 5.5).attr('width', 14).attr('height', 11).attr('fill', '#808080')
      g.append('text').attr('x', plotRight + 6).attr('y', scale(l) + 3.5).attr('fill', '#f2f2f2').text(l)
    })
  }
  levelAxis(yRsi, rsiLevels)
  levelAxis(yStoch, stochLevels)

  // titles
  svg.append('path').attr('d', 'M5,6 L12,6 L8.5,10 Z').attr('fill', '#000')
  svg.append('text').attr('x', 17).attr('y', 12).attr('font-size', fs)
    .text('USDCAD,H4  1.25180 1.25186 1.25098 1.25104')
  svg.append('text').attr('x', 4).attr('y', 410).attr('font-size', fs).text('RSI(14) 49.8725')
  svg.append('text').attr('x', 4).attr('y', 493).attr('font-size', fs).text('Stoch(5,3,3) 93.2783 83.0596')

  // time axis
  const tg = svg.append('g').attr('font-size', fs)
  tg.selectAll('line').data(timeLabelBars).enter().append('line')
    .attr('x1', d => Math.round(x(d)) + 0.5).attr('x2', d => Math.round(x(d)) + 0.5)
    .attr('y1', stochP.bottom).attr('y2', stochP.bottom + 4).attr('stroke', '#000')
  tg.selectAll('text').data(timeLabelBars).enter().append('text')
    .attr('x', d => x(d) + 1).attr('y', 566)
    .text((d, k) => timeLabels[k])

  // watermark (sits over the first time labels, as in the source)
  const wm = svg.append('g')
  wm.append('rect').attr('x', 0).attr('y', 528).attr('width', 180).attr('height', 46).attr('fill', 'rgba(95,95,95,0.62)')
  wm.append('circle').attr('cx', 23).attr('cy', 548).attr('r', 12.5)
    .attr('fill', 'none').attr('stroke', '#eeeeee').attr('stroke-width', 6).attr('stroke-dasharray', '4.9,4.9')
  wm.append('circle').attr('cx', 23).attr('cy', 548).attr('r', 8).attr('fill', 'none').attr('stroke', '#eeeeee').attr('stroke-width', 3)
  wm.append('circle').attr('cx', 23).attr('cy', 545).attr('r', 2.5).attr('fill', '#eeeeee')
  wm.append('text').attr('x', 46).attr('y', 559).attr('font-size', 31).attr('fill', '#f0f0f0').text('instaforex')
  wm.append('text').attr('x', 48).attr('y', 571).attr('font-size', 11).attr('fill', '#dddddd').text('Instant Forex Trading')
})()
</script>
</body>
</html>
